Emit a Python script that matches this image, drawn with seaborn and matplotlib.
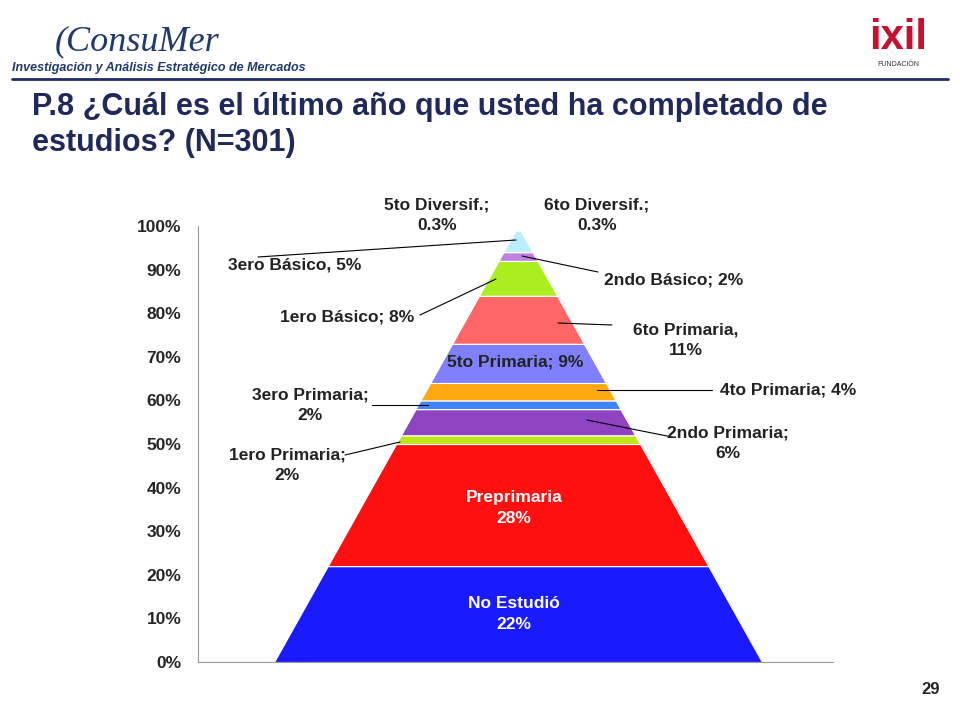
import matplotlib.pyplot as plt
import seaborn as sns

sns.set_style("white")
plt.rc('font', family='Liberation Sans')

# ===== data =====
niveles = ['No Estudió', 'Preprimaria', '1ero Primaria', '2ndo Primaria', '3ero Primaria',
           '4to Primaria', '5to Primaria', '6to Primaria', '1ero Básico', '2ndo Básico',
           '3ero Básico', '5to Diversif.', '6to Diversif.']
porcentajes = [22, 28, 2, 6, 2, 4, 9, 11, 8, 2, 5, 0.3, 0.3]
colores = ['#1a1aff', '#ff1010', '#bde51c', '#8e44c0', '#3f84ff', '#ffaa10', '#8080ff',
           '#ff6666', '#aaee22', '#c080e0', '#bbeeff', '#99ddff', '#cceeff']
yticks = list(range(0, 101, 10))

W, H = 960, 720
fig = plt.figure(figsize=(9.6, 7.2), dpi=100)

x0, x1, ytop, ybot = 198, 833, 226, 662
ax = fig.add_axes([x0 / W, 1 - ybot / H, (x1 - x0) / W, (ybot - ytop) / H])
ax.set_xlim(0, 1)
ax.set_ylim(0, 100)

cx = (518 - x0) / (x1 - x0)
half = (760 - 272) / 2 / (x1 - x0)

base = 0
for nivel, p, c in zip(niveles, porcentajes, colores):
    top = base + p
    ys = [base, top]
    ax.fill_betweenx(ys, [cx - half * (1 - base / 100), cx - half * (1 - top / 100)],
                     [cx + half * (1 - base / 100), cx + half * (1 - top / 100)],
                     color=c, edgecolor='white', linewidth=0.8)
    base = top

ax.set_yticks(yticks)
ax.set_yticklabels([f'{t}%' for t in yticks], fontsize=12.5, fontweight='bold')
ax.set_xticks([])
for s in ['top', 'right']:
    ax.spines[s].set_visible(False)
ax.spines['left'].set_color('#999999')
ax.spines['bottom'].set_color('#999999')
ax.tick_params(axis='y', length=0, pad=12)


def px(xp, yp):
    return ((xp - x0) / (x1 - x0), (ybot - yp) / (ybot - ytop) * 100)


labels = [
    ('5to Diversif.;\n0.3%', (437, 215), None),
    ('6to Diversif.;\n0.3%', (597, 215), None),
    ('3ero Básico, 5%', (295, 265), ((258, 257), (516, 240))),
    ('2ndo Básico; 2%', (674, 280), ((598, 272), (522, 256))),
    ('1ero Básico; 8%', (347, 317), ((420, 315), (496, 279))),
    ('6to Primaria,\n11%', (686, 340), ((612, 325), (558, 323))),
    ('5to Primaria; 9%', (515, 362), None),
    ('3ero Primaria;\n2%', (310, 405), ((372, 405), (428, 405))),
    ('4to Primaria; 4%', (788, 390), ((712, 390), (597, 390))),
    ('2ndo Primaria;\n6%', (728, 443), ((672, 437), (587, 420))),
    ('1ero Primaria;\n2%', (287, 465), ((345, 455), (400, 442))),
]
for txt, (tx, ty), line in labels:
    ax.text(*px(tx, ty), txt, ha='center', va='center', fontsize=12.5,
            fontweight='bold', color='#222222', clip_on=False, linespacing=1.45)
    if line:
        (ax_, ay_), (bx_, by_) = line
        p1, p2 = px(ax_, ay_), px(bx_, by_)
        ax.plot([p1[0], p2[0]], [p1[1], p2[1]], color='black', lw=0.8, clip_on=False)

ax.text(*px(514, 508), 'Preprimaria\n28%', ha='center', va='center', fontsize=12.5,
        fontweight='bold', color='white', linespacing=1.45)
ax.text(*px(514, 614), 'No Estudió\n22%', ha='center', va='center', fontsize=12.5,
        fontweight='bold', color='white', linespacing=1.45)

# ===== header =====
fig.text(55 / W, 1 - 42 / H, '(ConsuMer', fontsize=26, style='italic', color='#1f3a6b',
         family='Liberation Serif', va='center')
fig.text(12 / W, 1 - 68 / H, 'Investigación y Análisis Estratégico de Mercados', fontsize=9,
         style='italic', fontweight='bold', color='#1f3a6b', va='center')
fig.text(898 / W, 1 - 38 / H, 'ixil', fontsize=30, fontweight='bold', color='#c8102e',
         ha='center', va='center')
fig.text(898 / W, 1 - 64 / H, 'FUNDACIÓN', fontsize=5, color='#333333', ha='center', va='center')
fig.add_artist(plt.Line2D([12 / W, 948 / W], [1 - 79 / H, 1 - 79 / H], color='#1f2a6b', lw=2))

fig.text(32 / W, 1 - 125 / H, 'P.8 ¿Cuál es el último año que usted ha completado de\nestudios? (N=301)',
         fontsize=22, fontweight='bold', color='#1f2a5b', va='center', linespacing=1.25)
fig.text(940 / W, 1 - 690 / H, '29', fontsize=12, fontweight='bold', ha='right', va='center')

fig.savefig('out.png', dpi=100)
